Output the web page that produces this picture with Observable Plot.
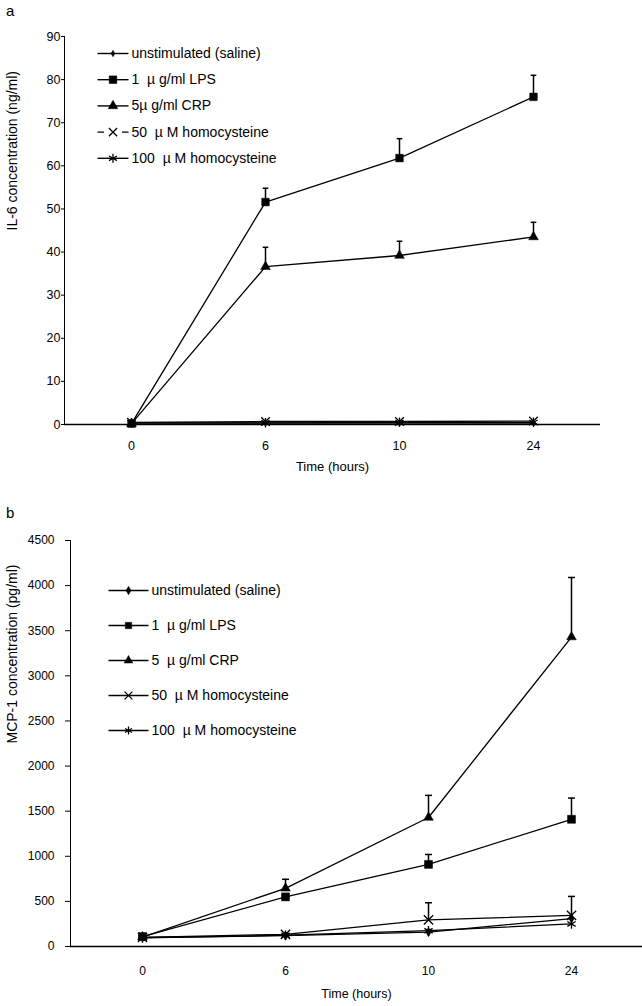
<!DOCTYPE html>
<html><head><meta charset="utf-8">
<script src="https://cdn.jsdelivr.net/npm/d3@7"></script>
<script src="https://cdn.jsdelivr.net/npm/@observablehq/plot@0.6"></script>
<style>
body{margin:0;background:#fff;font-family:"Liberation Sans",Arial,sans-serif;color:#000;}
#wrap{position:relative;width:642px;height:1006px;}
#wrap svg{display:block;}
.plab{position:absolute;left:6px;font-size:15px;line-height:15px;}
</style></head><body>
<div id="wrap"><div id="top"></div><div id="bot"></div>
<div class="plab" style="top:3px">a</div><div class="plab" style="top:505px">b</div></div>
<script>
// ---- data ----
const times = ["0", "6", "10", "24"];
const labelsA = ["unstimulated (saline)", "1\u00a0 µ\u00a0g/ml LPS", "5µ\u00a0g/ml CRP", "50\u00a0 µ\u00a0M homocysteine", "100\u00a0 µ\u00a0M homocysteine"];
const labelsB = ["unstimulated (saline)", "1\u00a0 µ\u00a0g/ml LPS", "5\u00a0 µ\u00a0g/ml CRP", "50\u00a0 µ\u00a0M homocysteine", "100\u00a0 µ\u00a0M homocysteine"];
// IL-6 (ng/ml)
const il6Saline = [0.3, 0.3, 0.3, 0.3];
const il6LPS    = [0.2, 51.6, 61.8, 76.0];
const il6CRP    = [0.2, 36.6, 39.2, 43.5];
const il6Hc50   = [0.5, 0.7, 0.7, 0.8];
const il6Hc100  = [0.4, 0.4, 0.5, 0.5];
const il6ErrLPS = [0, 3.2, 4.5, 5.0];
const il6ErrCRP = [0, 4.5, 3.3, 3.4];
const il6Ticks = [0, 10, 20, 30, 40, 50, 60, 70, 80, 90];
// MCP-1 (pg/ml)
const mcpSaline = [100, 120, 160, 310];
const mcpLPS    = [110, 550, 910, 1410];
const mcpCRP    = [105, 645, 1430, 3430];
const mcpHc50   = [100, 135, 295, 345];
const mcpHc100  = [95, 125, 175, 250];
const mcpErrLPS = [0, 0, 110, 235];
const mcpErrCRP = [0, 100, 245, 660];
const mcpErrHc50 = [0, 0, 190, 210];
const mcpTicks = [0, 500, 1000, 1500, 2000, 2500, 3000, 3500, 4000, 4500];
const zeros = [0, 0, 0, 0];

// ---- symbols ----
const capSym = hw => ({draw(ctx){ ctx.moveTo(-hw, 0); ctx.lineTo(hw, 0); }});
const lineSym = (hw, gap) => ({draw(ctx){
  if (gap) { ctx.moveTo(-hw, 0); ctx.lineTo(-gap, 0); ctx.moveTo(gap, 0); ctx.lineTo(hw, 0); }
  else { ctx.moveTo(-hw, 0); ctx.lineTo(hw, 0); }
}});
const markerDefs = [
  {symbol: "diamond", fill: true},
  {symbol: "square", fill: true},
  {symbol: "triangle", fill: true},
  {symbol: "times", fill: false},
  {symbol: "asterisk", fill: false}
];

function panel(cfg) {
  const rows = [];
  cfg.values.forEach((vals, i) => times.forEach((t, j) => rows.push({
    s: i, t, v: vals[j], top: vals[j] + cfg.errors[i][j], e: cfg.errors[i][j]
  })));
  const marks = [
    Plot.ruleY([cfg.yDomain[0]], {stroke: "black", strokeWidth: 1.6}),
    Plot.ruleX(rows.filter(d => d.e > 0), {x: "t", y1: "v", y2: "top", stroke: "black", strokeWidth: 1.5}),
    Plot.dot(rows.filter(d => d.e > 0), {x: "t", y: "top", symbol: capSym(cfg.capHw), stroke: "black", strokeWidth: 1.5})
  ];
  cfg.values.forEach((vals, i) => {
    const sub = rows.filter(d => d.s === i);
    const m = markerDefs[i];
    marks.push(Plot.line(sub, {x: "t", y: "v", stroke: "black", strokeWidth: 1.3}));
    marks.push(Plot.dot(sub, {x: "t", y: "v", symbol: m.symbol, r: cfg.r[i],
      fill: m.fill ? "black" : "none", stroke: "black", strokeWidth: m.fill ? 0.5 : 1.3}));
    // legend entry
    const dy = cfg.legY + i * cfg.legGap;
    marks.push(Plot.dot([i], {frameAnchor: "top-left", dx: cfg.legX, dy, symbol: lineSym(cfg.legHw, cfg.legGapIdx === i ? 9 : 0), stroke: "black", strokeWidth: 1.4}));
    marks.push(Plot.dot([i], {frameAnchor: "top-left", dx: cfg.legX, dy, symbol: m.symbol, r: cfg.legR[i],
      fill: m.fill ? "black" : "none", stroke: "black", strokeWidth: m.fill ? 0.5 : 1.3}));
    marks.push(Plot.text([cfg.labels[i]], {frameAnchor: "top-left", dx: cfg.legX + cfg.legHw + 3, dy,
      text: d => d, textAnchor: "start", lineAnchor: "middle", fontSize: cfg.legFont}));
  });
  marks.push(Plot.text([cfg.ylabel], {frameAnchor: "left", dx: cfg.ylabelDx, rotate: -90, text: d => d, fontSize: cfg.titleFont}));
  marks.push(Plot.text(["Time (hours)"], {frameAnchor: "bottom", dy: cfg.xlabelDy, text: d => d, fontSize: cfg.xTitleFont}));
  return Plot.plot({
    width: 642, height: cfg.height,
    marginTop: cfg.mt, marginBottom: cfg.mb, marginLeft: cfg.ml, marginRight: cfg.mr,
    style: {fontFamily: "'Liberation Sans', Arial, sans-serif", fontSize: cfg.font + "px", color: "black", background: "white"},
    x: {type: "point", domain: times, padding: 0.5, tickSize: 0, tickPadding: cfg.xTickPad, label: null},
    y: {domain: cfg.yDomain, ticks: cfg.yTicks, tickFormat: d => String(d), tickSize: cfg.yTickSize, tickPadding: cfg.yTickPad, label: null, line: true},
    marks
  });
}

document.getElementById("top").appendChild(panel({
  height: 490, mt: 36, mb: 66, ml: 64, mr: 42,
  yDomain: [0, 90], yTicks: il6Ticks, yTickSize: 3, yTickPad: 1, xTickPad: 17,
  values: [il6Saline, il6LPS, il6CRP, il6Hc50, il6Hc100],
  errors: [zeros, il6ErrLPS, il6ErrCRP, zeros, zeros],
  r: [2, 4.3, 3.6, 4, 4.5], legR: [2, 4.3, 3.6, 3.8, 4.3], capHw: 2.8,
  labels: labelsA, legX: 48.5, legY: 17, legGap: 26.2, legHw: 15.5, legGapIdx: 3, legFont: 14,
  ylabel: "IL-6 concentration (ng/ml)", ylabelDx: -52, xlabelDy: 46, font: 12.5, titleFont: 14, xTitleFont: 13
}));
document.getElementById("bot").appendChild(panel({
  height: 516, mt: 50, mb: 60, ml: 70, mr: 0,
  yDomain: [0, 4500], yTicks: mcpTicks, yTickSize: 5, yTickPad: 11, xTickPad: 20,
  values: [mcpSaline, mcpLPS, mcpCRP, mcpHc50, mcpHc100],
  errors: [zeros, mcpErrLPS, mcpErrCRP, mcpErrHc50, zeros],
  r: [2.8, 4.5, 3.6, 4.3, 4.5], legR: [2.6, 3.6, 3.2, 3.6, 3.8], capHw: 3.5,
  labels: labelsB, legX: 58, legY: 50, legGap: 35, legHw: 20, legGapIdx: -1, legFont: 14,
  ylabel: "MCP-1 concentration (pg/ml)", ylabelDx: -58, xlabelDy: 51, font: 12, titleFont: 14, xTitleFont: 12.5
}));
</script></body></html>
